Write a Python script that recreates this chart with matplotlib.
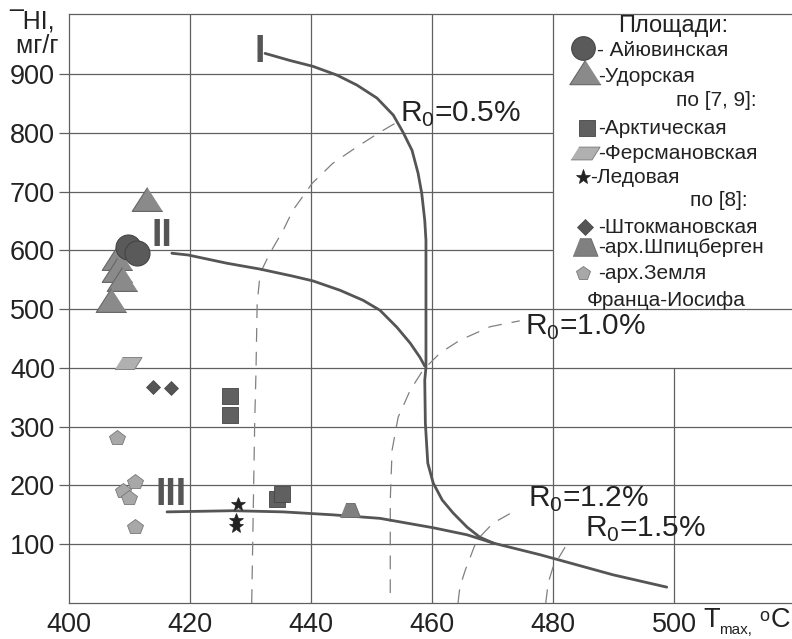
import matplotlib
matplotlib.use('Agg')
import matplotlib.pyplot as plt
import numpy as np

plt.rcParams['font.family'] = ['Liberation Sans', 'DejaVu Sans']
plt.rcParams['mathtext.fontset'] = 'custom'
plt.rcParams['mathtext.rm'] = 'Liberation Sans'

# Scatter data (Tmax, HI)
aiu_x = [409.8, 411.2]
aiu_y = [605, 595]
udor_x = [412.9, 407.9, 407.9, 408.8, 406.9]
udor_y = [687, 587, 566, 551, 515]
arkt_x = [426.6, 426.6, 434.4, 435.2]
arkt_y = [352, 320, 177, 185]
fers_x = [409.8]
fers_y = [408]
led_x = [427.9, 427.6, 427.6]
led_y = [168, 141, 131]
shtok_x = [413.9, 416.9]
shtok_y = [367, 365]
shpic_x = [446.4]
shpic_y = [158]
zfi_x = [407.9, 410.9, 408.9, 409.9, 410.9]
zfi_y = [281, 206, 190, 178, 129]

# Evolution curves I, II, III
c1_x = [432.4, 436.5, 440.3, 444.3, 447.6, 450.9, 453.6, 455.2, 456.7, 457.7,
        458.3, 458.8, 459.0, 459.0, 459.0, 458.8, 458.9, 459.3, 460.2, 461.7,
        463.5, 465.8, 467.9, 470.1]
c1_y = [935, 923, 913, 898, 881, 859, 830, 801, 770, 731,
        697, 651, 617, 515, 401, 379, 306, 238, 204, 175,
        153, 129, 112, 102]
c2_x = [417.0, 419.7, 426.1, 431.6, 437.0, 440.3, 444.8, 448.6, 451.4, 454.2,
        456.4, 458.0, 458.8]
c2_y = [595, 592, 578, 568, 556, 548, 532, 515, 498, 469,
        442, 418, 403]
c3_x = [416.2, 427.1, 435.4, 443.6, 451.4, 454.7, 460.2, 465.8, 470.1, 477.9,
        489.9, 498.8]
c3_y = [155, 157, 155, 150, 144, 138, 128, 116, 102, 82,
        48, 27]

# Iso-reflectance (dashed) lines
r05_x = [430.2, 430.7, 430.9, 431.1, 431.6, 433.2, 435.4, 437.0, 440.2, 443.6,
         447.6, 451.4, 453.9]
r05_y = [0, 311, 391, 510, 561, 595, 634, 668, 714, 748,
         776, 801, 816]
r10_x = [453.1, 453.1, 453.4, 454.4, 456.4, 458.5, 461.3, 464.6, 469.6, 474.5]
r10_y = [17, 175, 260, 316, 362, 396, 425, 447, 470, 480]
r12_x = [464.3, 464.6, 465.5, 467.4, 470.1, 473.4]
r12_y = [0, 27, 56, 107, 136, 155]
r15_x = [478.8, 479.2, 480.0, 482.0]
r15_y = [0, 34, 61, 95]

xticks = [400, 420, 440, 460, 480, 500]
yticks = [100, 200, 300, 400, 500, 600, 700, 800, 900]

fig = plt.figure(figsize=(7.92, 6.39), dpi=100)
ax = fig.add_axes([69/792, 36/639, 723/792, 589/639])
ax.set_xlim(400, 519.5)
ax.set_ylim(0, 1002)

gc = '#606060'
# grid (upper right part hidden by legend box)
for xv in [420, 440, 460, 480]:
    ax.vlines(xv, 0, 1002, color=gc, lw=0.9, zorder=1)
ax.vlines(500, 0, 400, color=gc, lw=0.9, zorder=1)
for yv in [100, 200, 300, 400, 500]:
    ax.hlines(yv, 400, 519.5, color=gc, lw=0.9, zorder=1)
for yv in [600, 700, 800, 900]:
    ax.hlines(yv, 400, 480, color=gc, lw=0.9, zorder=1)

for s in ['left', 'bottom', 'top']:
    ax.spines[s].set_color(gc)
    ax.spines[s].set_linewidth(0.9)
ax.spines['right'].set_visible(False)

ax.set_xticks(xticks)
ax.set_yticks(yticks)
ax.tick_params(axis='x', length=0, pad=6.5, labelsize=19.5, labelcolor='#222222')
ax.tick_params(axis='y', length=7, width=0.9, color=gc, pad=3, labelsize=19.5, labelcolor='#222222')

# dashed lines
dash = dict(color='#808080', lw=0.9, dashes=(11, 8), zorder=2)
ax.plot(r05_x, r05_y, **dash)
ax.plot(r10_x, r10_y, **dash)
ax.plot(r12_x, r12_y, **dash)
ax.plot(r15_x, r15_y, **dash)

# solid curves
cc = '#555555'
ax.plot(c1_x, c1_y, color=cc, lw=2, zorder=3, solid_capstyle='round', solid_joinstyle='round')
ax.plot(c2_x, c2_y, color=cc, lw=2, zorder=3, solid_capstyle='round', solid_joinstyle='round')
ax.plot(c3_x, c3_y, color=cc, lw=2, zorder=3, solid_capstyle='round', solid_joinstyle='round')

tri = [(0, 0.78), (-1, -0.78), (1, -0.78)]
para = [(-1, -0.44), (0.45, -0.44), (1, 0.44), (-0.45, 0.44)]
trap = [(-1, -0.7), (1, -0.7), (0.45, 0.7), (-0.45, 0.7)]

ec = '#444444'
ax.plot(udor_x, udor_y, ls='none', marker=tri, ms=22, mfc='#8a8a8a', mec='#666666', mew=0.8, zorder=4)
ax.plot(aiu_x, aiu_y, ls='none', marker='o', ms=18, mfc='#5a5a5a', mec=ec, mew=0.8, zorder=5)
ax.plot(arkt_x, arkt_y, ls='none', marker='s', ms=12, mfc='#606060', mec=ec, mew=0.6, zorder=4)
ax.plot(fers_x, fers_y, ls='none', marker=para, ms=19.5, mfc='#b0b0b0', mec='#777777', mew=0.6, zorder=4)
ax.plot(led_x, led_y, ls='none', marker='*', ms=10, mfc='#222222', mec='#222222', mew=0.5, zorder=4)
ax.plot(shtok_x, shtok_y, ls='none', marker='D', ms=7.3, mfc='#555555', mec=ec, mew=0.5, zorder=4)
ax.plot(shpic_x, shpic_y, ls='none', marker=trap, ms=14.5, mfc='#808080', mec='#666666', mew=0.6, zorder=4)
ax.plot(zfi_x, zfi_y, ls='none', marker='p', ms=11.5, mfc='#a8a8a8', mec='#777777', mew=0.6, zorder=4)

# roman numerals
ax.text(431.5, 938, 'I', fontsize=27, fontweight='bold', color='#555555', ha='center', va='center', zorder=5)
ax.text(415.3, 625, 'II', fontsize=27, fontweight='bold', color='#555555', ha='center', va='center', zorder=5)
ax.text(416.8, 183, 'III', fontsize=27, fontweight='bold', color='#555555', ha='center', va='center', zorder=5)

# reflectance labels
rl = dict(fontsize=21.5, color='#222222', ha='left', va='baseline', zorder=5)
ax.text(454.7, 818, r'R$_\mathregular{0}$=0.5%', **rl)
ax.text(475.4, 456, r'R$_\mathregular{0}$=1.0%', **rl)
ax.text(475.9, 163, r'R$_\mathregular{0}$=1.2%', **rl)
ax.text(485.3, 112, r'R$_\mathregular{0}$=1.5%', **rl)

# legend (drawn inside the upper-right box)
lt = dict(fontsize=15, color='#222222', va='center', zorder=6)
ax.text(499.9, 981, 'Площади:', fontsize=17, color='#222222', ha='center', va='center')
ax.plot([485.0], [944], marker='o', ms=17, mfc='#5a5a5a', mec=ec, mew=0.8, ls='none')
ax.text(487.3, 940, '- Айювинская', ha='left', **lt)
ax.plot([485.3], [903], marker=tri, ms=22.5, mfc='#8a8a8a', mec='#666666', mew=0.8, ls='none')
ax.text(487.4, 895, '-Удорская', ha='left', **lt)
ax.text(513.6, 855, 'по [7, 9]:', ha='right', **lt)
ax.plot([485.6], [808], marker='s', ms=11, mfc='#606060', mec=ec, mew=0.6, ls='none')
ax.text(487.4, 808, '-Арктическая', ha='left', **lt)
ax.plot([485.3], [765], marker=para, ms=21, mfc='#b0b0b0', mec='#777777', mew=0.6, ls='none')
ax.text(487.4, 765, '-Ферсмановская', ha='left', **lt)
ax.plot([485.0], [724], marker='*', ms=11, mfc='#222222', mec='#222222', mew=0.5, ls='none')
ax.text(486.2, 724, '-Ледовая', ha='left', **lt)
ax.text(512.1, 685, 'по [8]:', ha='right', **lt)
ax.plot([485.3], [639], marker='D', ms=8.5, mfc='#555555', mec=ec, mew=0.5, ls='none')
ax.text(487.4, 639, '-Штокмановская', ha='left', **lt)
ax.plot([485.3], [605], marker=trap, ms=18, mfc='#808080', mec='#666666', mew=0.6, ls='none')
ax.text(487.4, 605, '-арх.Шпицберген', ha='left', **lt)
ax.plot([485.0], [561], marker='p', ms=10, mfc='#a8a8a8', mec='#777777', mew=0.6, ls='none')
ax.text(487.4, 561, '-арх.Земля', ha='left', **lt)
ax.text(485.6, 515, 'Франца-Иосифа', ha='left', **lt)

# axis titles
W, H = 792, 639
fig.text(9/W, 1 - 53/H, '¯HI,\n мг/г', fontsize=18, color='#222222', ha='left', va='baseline',
         linespacing=0.95)
fig.text(703/W, 1 - 627/H, 'T', fontsize=19.5, color='#222222', ha='left', va='baseline')
fig.text(719/W, 1 - 634/H, 'max,', fontsize=11, color='#222222', ha='left', va='baseline')
fig.text(759/W, 1 - 621/H, 'o', fontsize=13, color='#222222', ha='left', va='baseline')
fig.text(771/W, 1 - 627/H, 'C', fontsize=19.5, color='#222222', ha='left', va='baseline')

fig.savefig('out.png', dpi=100, facecolor='white')
